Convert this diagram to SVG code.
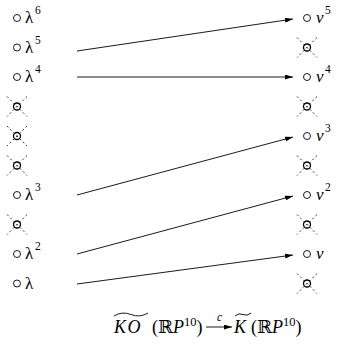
<svg xmlns="http://www.w3.org/2000/svg" width="340" height="345" viewBox="0 0 340 345">
<defs>
<style>
.c{fill:none;stroke:#000;stroke-width:0.9}
.x{stroke:#000;stroke-width:0.8;stroke-dasharray:2 2.5;fill:none}
.xc{fill:none;stroke:#000;stroke-width:1.3}
.t{font-family:"Liberation Serif","DejaVu Serif",serif;font-size:17px;fill:#000}
.s{font-family:"Liberation Serif","DejaVu Serif",serif;font-size:11.5px;fill:#000}
.f{font-family:"Liberation Serif","DejaVu Serif",serif;font-size:18px;fill:#000}
.e{stroke:#000;stroke-width:0.9;fill:none}
</style>
<marker id="ah" viewBox="0 0 8 5" refX="8" refY="2.5" markerWidth="8" markerHeight="5" markerUnits="userSpaceOnUse" orient="auto">
<path d="M0,0 L8,2.5 L0,5 z" fill="#000"/>
</marker>
<g id="cross">
<line class="x" x1="-10" y1="-10" x2="10" y2="10"/>
<line class="x" x1="10" y1="-10" x2="-10" y2="10"/>
<circle class="xc" r="3.5"/>
</g>
</defs>
<rect width="340" height="345" fill="#fff"/>
<g id="l6"><circle class="c" cx="17" cy="18" r="3.5"/><text class="t" x="25" y="23">λ</text><text class="s" x="35" y="14">6</text></g>
<g id="l5"><circle class="c" cx="17" cy="47.5" r="3.5"/><text class="t" x="25" y="52.5">λ</text><text class="s" x="35" y="43.5">5</text></g>
<g id="l4"><circle class="c" cx="17" cy="77" r="3.5"/><text class="t" x="25" y="82">λ</text><text class="s" x="35" y="73">4</text></g>
<g id="lx1"><use href="#cross" x="17" y="106.5"/></g>
<g id="lx2"><use href="#cross" x="17" y="136"/></g>
<g id="lx3"><use href="#cross" x="17" y="165.5"/></g>
<g id="l3"><circle class="c" cx="17" cy="195" r="3.5"/><text class="t" x="25" y="200">λ</text><text class="s" x="35" y="191">3</text></g>
<g id="lx4"><use href="#cross" x="17" y="224.5"/></g>
<g id="l2"><circle class="c" cx="17" cy="254" r="3.5"/><text class="t" x="25" y="259">λ</text><text class="s" x="35" y="250">2</text></g>
<g id="l1"><circle class="c" cx="17" cy="283.5" r="3.5"/><text class="t" x="25" y="288.5">λ</text></g>
<g id="n5"><circle class="c" cx="307" cy="18" r="3.5"/><text class="t" x="316" y="23" font-style="italic">ν</text><text class="s" x="325" y="14">5</text></g>
<g id="rx1"><use href="#cross" x="307" y="47.5"/></g>
<g id="n4"><circle class="c" cx="307" cy="77" r="3.5"/><text class="t" x="316" y="82" font-style="italic">ν</text><text class="s" x="325" y="73">4</text></g>
<g id="rx2"><use href="#cross" x="307" y="106.5"/></g>
<g id="n3"><circle class="c" cx="307" cy="136" r="3.5"/><text class="t" x="316" y="141" font-style="italic">ν</text><text class="s" x="325" y="132">3</text></g>
<g id="rx3"><use href="#cross" x="307" y="165.5"/></g>
<g id="n2"><circle class="c" cx="307" cy="195" r="3.5"/><text class="t" x="316" y="200" font-style="italic">ν</text><text class="s" x="325" y="191">2</text></g>
<g id="rx4"><use href="#cross" x="307" y="224.5"/></g>
<g id="n1"><circle class="c" cx="307" cy="254" r="3.5"/><text class="t" x="316" y="259" font-style="italic">ν</text></g>
<g id="rx5"><use href="#cross" x="307" y="283.5"/></g>
<g id="connectors">
<line class="e" x1="77" y1="51" x2="293" y2="19" marker-end="url(#ah)"/>
<line class="e" x1="77" y1="77" x2="293" y2="77" marker-end="url(#ah)"/>
<line class="e" x1="77" y1="195" x2="293" y2="137" marker-end="url(#ah)"/>
<line class="e" x1="77" y1="254" x2="293" y2="196" marker-end="url(#ah)"/>
<line class="e" x1="77" y1="284" x2="293" y2="255" marker-end="url(#ah)"/>
</g>
<g id="caption">
<path class="e" d="M114,316 Q122,311 131,314.5 Q140,318 148,313"/>
<text class="f" x="114" y="333" font-style="italic" letter-spacing="1.5">KO</text>
<text class="f" x="152" y="333">(ℝ<tspan font-style="italic">P</tspan><tspan font-size="12.5" dy="-7.5">10</tspan><tspan dy="7.5">)</tspan></text>
<line class="e" x1="206" y1="327" x2="232" y2="327" marker-end="url(#ah)"/>
<text class="s" x="217" y="321" font-style="italic">c</text>
<path class="e" d="M235,316 Q239,312.5 243,314.5 Q247,316.5 251,313"/>
<text class="f" x="234" y="333" font-style="italic">K</text>
<text class="f" x="251" y="333">(ℝ<tspan font-style="italic">P</tspan><tspan font-size="12.5" dy="-7.5">10</tspan><tspan dy="7.5">)</tspan></text>
</g>
</svg>
